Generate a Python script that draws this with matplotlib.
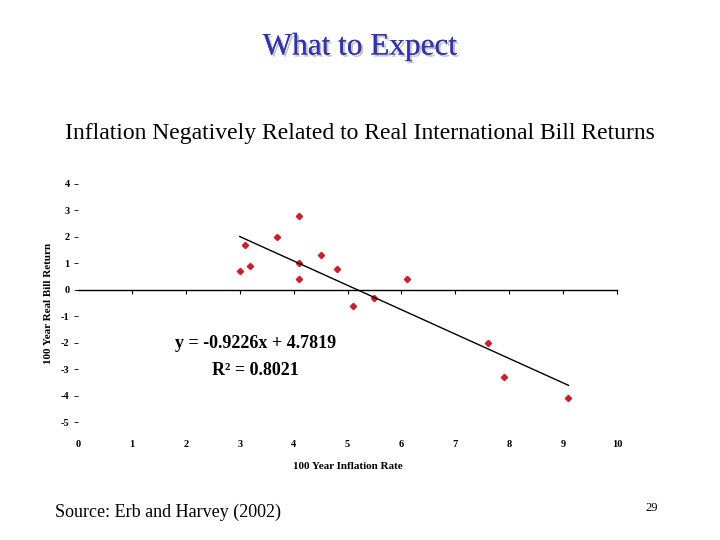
import numpy as np
import matplotlib
matplotlib.use('Agg')
import matplotlib.pyplot as plt
import matplotlib.patheffects as pe

# 데이터
inflation = [3.0, 3.1, 3.2, 3.7, 4.1, 4.1, 4.1, 4.5, 4.8, 5.1, 5.5, 6.1, 7.6, 7.9, 9.1]
real_return = [0.7, 1.7, 0.9, 2.0, 2.8, 1.0, 0.4, 1.3, 0.8, -0.6, -0.3, 0.4, -2.0, -3.3, -4.1]

slope = -0.9226
intercept = 4.7819
r_squared = 0.8021
fit_range = [3.0, 9.1]

x_ticks = [0, 1, 2, 3, 4, 5, 6, 7, 8, 9, 10]
y_ticks = [4, 3, 2, 1, 0, -1, -2, -3, -4, -5]

plt.rcParams['font.family'] = ['Liberation Serif', 'DejaVu Serif']
plt.rcParams['axes.unicode_minus'] = False

fig = plt.figure(figsize=(7.2, 5.4), dpi=100)

# 제목
fig.text(0.5, 0.913, 'What to Expect', ha='center', va='center', fontsize=22.5,
         color='#3333aa',
         path_effects=[pe.withSimplePatchShadow(offset=(1.5, -1.5), shadow_rgbFace='#c0c0d0', alpha=1),
                       pe.Normal()])
fig.text(0.5, 0.753, 'Inflation Negatively Related to Real International Bill Returns',
         ha='center', va='center', fontsize=17)
fig.text(0.076, 0.052, 'Source: Erb and Harvey (2002)', ha='left', va='center', fontsize=13)
fig.text(0.905, 0.06, '29', ha='center', va='center', fontsize=9)

ax = fig.add_axes([78 / 720, 1 - 422 / 540, 539 / 720, 238 / 540])
ax.set_xlim(0, 10)
ax.set_ylim(-5, 4)

for s in ['top', 'right', 'left']:
    ax.spines[s].set_visible(False)
ax.spines['bottom'].set_position(('data', 0))
ax.spines['bottom'].set_linewidth(1)
ax.set_xticks(x_ticks[1:])
ax.tick_params(axis='x', direction='out', length=3, labelbottom=False)

sec = ax.secondary_xaxis('bottom')
sec.set_xticks(x_ticks)
sec.spines['bottom'].set_visible(False)
sec.tick_params(length=0, pad=13)
for lab in sec.get_xticklabels():
    lab.set_fontsize(7.5)
    lab.set_fontweight('bold')
sec.set_xlabel('100 Year Inflation Rate', fontsize=8, fontweight='bold', labelpad=9)

ax.set_yticks(y_ticks)
ax.tick_params(axis='y', direction='out', length=3, width=0.6, pad=3)
for lab in ax.get_yticklabels():
    lab.set_fontsize(7.5)
    lab.set_fontweight('bold')
ax.set_ylabel('100 Year Real Bill Return', fontsize=8, fontweight='bold', labelpad=6)

# 산점도와 추세선
ax.plot(inflation, real_return, linestyle='none', marker='D', markersize=3.2,
        color='#c8202c', clip_on=False)
xs = np.array(fit_range)
ax.plot(xs, slope * xs + intercept, color='black', lw=1)

ax.text(3.3, -2.05, 'y = %.4fx + %.4f' % (slope, intercept), ha='center', va='center',
        fontsize=13, fontweight='bold')
ax.text(3.3, -3.05, 'R\u00b2 = %.4f' % r_squared, ha='center', va='center',
        fontsize=13, fontweight='bold')

fig.savefig('out.png', dpi=100)
